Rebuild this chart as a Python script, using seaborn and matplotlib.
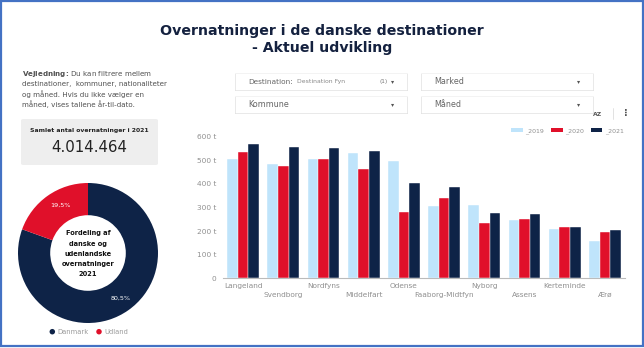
import matplotlib
matplotlib.use("Agg")
import matplotlib.pyplot as plt
import matplotlib.patches as mpatches
import seaborn as sns
import pandas as pd

# ---------------- data ----------------
destinations = ["Langeland", "Svendborg", "Nordfyns", "Middelfart", "Odense",
                "Faaborg-Midtfyn", "Nyborg", "Assens", "Kerteminde", "Ærø"]
years = ["_2019", "_2020", "_2021"]
v2019 = [505, 484, 505, 530, 498, 308, 312, 247, 208, 159]
v2020 = [534, 476, 504, 463, 282, 339, 233, 251, 216, 196]
v2021 = [569, 555, 551, 541, 405, 387, 278, 271, 219, 205]
yticks = [0, 100, 200, 300, 400, 500, 600]
ytick_labels = ["0", "100 t", "200 t", "300 t", "400 t", "500 t", "600 t"]

pie_labels = ["Danmark", "Udland"]
pie_values = [80.5, 19.5]
pie_texts = ["80,5%", "19,5%"]

total_label = "Samlet antal overnatninger i 2021"
total_value = "4.014.464"

# ---------------- style ----------------
sns.set_theme(style="white")
plt.rcParams["font.family"] = ["DejaVu Sans"]
plt.rcParams["mathtext.fontset"] = "dejavusans"

W, H = 644, 348
fig = plt.figure(figsize=(W / 100, H / 100), dpi=100)
fig.patch.set_facecolor("white")

NAVY = "#0E2347"
RED = "#E0102A"
LIGHT = "#BFE4FB"


def fx(x):
    return x / W


def fy(y):
    return 1 - y / H


def box(x0, y0, x1, y1):
    return [fx(x0), fy(y1), (x1 - x0) / W, (y1 - y0) / H]


def rect(x0, y0, x1, y1, **kw):
    r = mpatches.Rectangle((fx(x0), fy(y1)), (x1 - x0) / W, (y1 - y0) / H,
                           transform=fig.transFigure, **kw)
    fig.add_artist(r)
    return r


def txt(x, y, s, **kw):
    kw.setdefault("va", "center")
    return fig.text(fx(x), fy(y), s, **kw)


# ---------------- title ----------------
txt(322, 31.5, "Overnatninger i de danske destinationer", ha="center",
    fontsize=10.2, fontweight="bold", color="#14213F")
txt(322, 48.3, "- Aktuel udvikling", ha="center",
    fontsize=10.2, fontweight="bold", color="#14213F")

# ---------------- left text ----------------
guide = ("$\\mathbf{Vejledning}\\!\\mathbf{:}\\!$ Du kan filtrere mellem\n"
         "destinationer,  kommuner, nationaliteter\n"
         "og måned. Hvis du ikke vælger en\n"
         "måned, vises tallene år-til-dato.")
fig.text(fx(22.5), fy(69), guide, ha="left", va="top", fontsize=5.15,
         color="#505050", linespacing=1.42)

# total box
fig.add_artist(mpatches.FancyBboxPatch((fx(21), fy(165)), (137) / W, (46) / H,
                                       boxstyle="round,pad=0,rounding_size=0.004",
                                       transform=fig.transFigure,
                                       facecolor="#EEEEEE", edgecolor="none"))
txt(89, 130, total_label, ha="center", fontsize=4.4, fontweight="bold", color="#222222")
txt(89, 148, total_value, ha="center", fontsize=10.8, color="#222222")

# ---------------- donut ----------------
pax = fig.add_axes(box(18, 183, 158, 323))
pax.pie(pie_values, colors=[NAVY, RED], startangle=90, counterclock=False,
        radius=1.0, wedgeprops=dict(width=0.46, edgecolor="none"))
pax.set_xlim(-1, 1)
pax.set_ylim(-1, 1)
pax.set_aspect("equal")
pax.axis("off")
txt(121, 298, pie_texts[0], ha="center", fontsize=4.6, color="white")
txt(60, 205, pie_texts[1], ha="center", fontsize=4.6, color="white")
txt(88, 254, "Fordeling af\ndanske og\nudenlandske\novernatninger\n2021", ha="center",
    fontsize=4.8, fontweight="bold", color="#111111", linespacing=1.85)

# donut legend
for cx, col, lab in [(52.3, NAVY, pie_labels[0]), (99, RED, pie_labels[1])]:
    fig.add_artist(mpatches.Ellipse((fx(cx), fy(331.7)), 5.5 / W, 5.5 / H,
                                    transform=fig.transFigure, facecolor=col, edgecolor="none"))
    txt(cx + 5.5, 331.9, lab, ha="left", fontsize=4.9, color="#9a9a9a")

# ---------------- filter boxes ----------------
for (x0, y0, x1, y1) in [(235, 73, 407, 90), (421, 73, 593, 90),
                         (235, 96, 407, 113), (421, 96, 593, 113)]:
    rect(x0, y0 + 1.2, x1 + 0.5, y1 + 1.2, facecolor="#CFCFCF", edgecolor="none")
    rect(x0, y0, x1, y1, facecolor="white", edgecolor="#EBEBEB", linewidth=0.4)

txt(248, 81.5, "Destination:", ha="left", fontsize=5.3, color="#666666")
txt(297, 81.8, "Destination Fyn", ha="left", fontsize=4.4, color="#888888")
txt(380, 81.5, "(1)", ha="left", fontsize=4.2, color="#777777")
txt(393, 81.3, "▾", ha="center", fontsize=4.5, color="#555555")
txt(434, 81.5, "Marked", ha="left", fontsize=5.8, color="#666666")
txt(579, 81.3, "▾", ha="center", fontsize=4.5, color="#555555")
txt(248, 104.8, "Kommune", ha="left", fontsize=5.8, color="#666666")
txt(393, 104.6, "▾", ha="center", fontsize=4.5, color="#555555")
txt(434, 104.8, "Måned", ha="left", fontsize=5.8, color="#666666")
txt(579, 104.6, "▾", ha="center", fontsize=4.5, color="#555555")

txt(598, 114.5, "AZ", ha="center", fontsize=4.4, color="#555555", fontweight="bold")
fig.add_artist(plt.Line2D([fx(612.7), fx(612.7)], [fy(108), fy(119)],
                          transform=fig.transFigure, color="#DDDDDD", linewidth=0.6))
txt(626, 113, "⋮", ha="center", fontsize=7, color="#555555", fontweight="bold")

# ---------------- bar chart ----------------
df = pd.DataFrame({
    "Destination": destinations * 3,
    "Year": [years[0]] * len(destinations) + [years[1]] * len(destinations) + [years[2]] * len(destinations),
    "Value": v2019 + v2020 + v2021,
})

AX_TOP, AX_BOT = 136.7, 278.3
ax = fig.add_axes(box(223, AX_TOP, 625, AX_BOT))
sns.barplot(data=df, x="Destination", y="Value", hue="Year",
            palette=[LIGHT, RED, NAVY], saturation=1, width=0.79, ax=ax,
            edgecolor="white", linewidth=0.3, legend=False, errorbar=None)
ax.set_xlim(-0.5, len(destinations) - 0.5)
ax.set_ylim(0, 600)
ax.set_xlabel("")
ax.set_ylabel("")
ax.set_facecolor("none")
for s in ["top", "right", "left"]:
    ax.spines[s].set_visible(False)
ax.spines["bottom"].set_color("#BBBBBB")
ax.spines["bottom"].set_linewidth(0.8)
ax.set_yticks(yticks)
ax.set_yticklabels(ytick_labels)
ax.set_xticks(range(len(destinations)))
ax.set_xticklabels(destinations)
ax.tick_params(axis="both", length=0, labelsize=5.3, colors="#8f8f8f")
ax.tick_params(axis="x", pad=3.2)
ax.tick_params(axis="y", pad=5.0)
for i, lab in enumerate(ax.get_xticklabels()):
    if i % 2 == 1:
        lab.set_y(-9.3 / (AX_BOT - AX_TOP))
for b in ax.patches:
    b.set_clip_on(False)

# legend
handles = [mpatches.Patch(facecolor=c, edgecolor="none", label=l)
           for c, l in zip([LIGHT, RED, NAVY], years)]
ax.legend(handles=handles, loc="center right",
          bbox_to_anchor=(1.0 + 1 / 402, (AX_BOT - 130.7) / (AX_BOT - AX_TOP)),
          ncol=3, frameon=False, fontsize=4.5, handlelength=1.9, handleheight=0.8,
          handletextpad=0.35, columnspacing=1.1, labelcolor="#8f8f8f", borderaxespad=0)

# ---------------- outer frame ----------------
rect(0.9, 0.9, 642.6, 345.6, facecolor="none", edgecolor="#4472C4", linewidth=1.6)

fig.savefig("out.png", dpi=100, facecolor="white")
